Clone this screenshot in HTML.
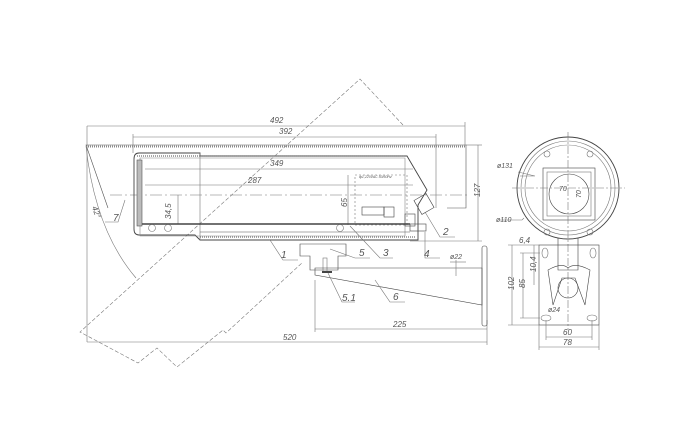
<!DOCTYPE html>
<html><head><meta charset="utf-8"><style>
html,body{margin:0;padding:0;background:#fff}
svg{display:block}
text{font-family:"Liberation Sans",sans-serif;font-style:italic;fill:#555}
</style></head><body>
<svg width="700" height="446" viewBox="0 0 700 446" xmlns="http://www.w3.org/2000/svg">
<g fill="none" stroke="#777" stroke-width="0.6">
<polyline stroke-dasharray="4,2" points="403,125 360,79 80,332 138,363 157,348 177,367 223,330 226,333 303,262"/>
<path d="M86,146 Q95,230 136,278"/>
<line x1="87" y1="126" x2="465" y2="126"/>
<line x1="133" y1="137" x2="436" y2="137"/>
<line x1="145" y1="169" x2="413" y2="169"/>
<line x1="145" y1="185" x2="413" y2="185"/>
<line x1="87" y1="342" x2="487" y2="342"/>
<line x1="315" y1="329" x2="487" y2="329"/>
<line x1="87" y1="126" x2="87" y2="342"/>
<line x1="465" y1="122" x2="465" y2="145"/>
<line x1="133" y1="134" x2="133" y2="153"/>
<line x1="436" y1="134" x2="436" y2="208"/>
<line x1="315" y1="280" x2="315" y2="332"/>
<line x1="487" y1="320" x2="487" y2="345"/>
<line x1="478" y1="145" x2="478" y2="241"/>
<line x1="466" y1="145" x2="482" y2="145"/>
<line x1="410" y1="241" x2="482" y2="241"/>
<line x1="178" y1="195" x2="178" y2="224"/>
<line x1="348" y1="175" x2="348" y2="225"/>
<rect x="355" y="175" width="52" height="50" stroke-dasharray="2,2"/>
<line x1="110" y1="195" x2="470" y2="195" stroke-dasharray="12,3,2,3"/>
<path d="M108,208 L86,145 L466,145 L466,208 L447,208" stroke="#555"/>
<line x1="86" y1="146.5" x2="466" y2="146.5" stroke="#888" stroke-width="2" stroke-dasharray="1,1"/>
<path d="M139,153 L200,153 L200,156 L407,156 L427,190 L418,205 L418,240 L200,240 L195,235 L139,235 Q134,235 134,229 L134,159 Q134,153 139,153 Z" stroke="#444" stroke-width="0.9"/>
<path d="M137,156 L405,156" stroke="#888" stroke-width="1.5" stroke-dasharray="1,1"/>
<path d="M200,237 L415,237" stroke="#888" stroke-width="1.5" stroke-dasharray="1,1"/>
<path d="M140,158 L405,158 L405,236 L140,236 Z" stroke="#888"/>
<rect x="137" y="160" width="5" height="66" fill="#bbb" stroke="#555"/>
<line x1="200" y1="153" x2="200" y2="240"/>
<line x1="142" y1="224" x2="410" y2="224" stroke="#444" stroke-width="1.5"/>
<line x1="200" y1="232" x2="410" y2="232" stroke="#555"/>
<circle cx="152" cy="228" r="3.5"/><circle cx="168" cy="228" r="3.5"/><circle cx="340" cy="228" r="3.5"/>
<rect x="362" y="207" width="22" height="8" stroke="#444"/>
<rect x="384" y="207" width="10" height="10" stroke="#444"/>
<rect x="405" y="214" width="10" height="12" stroke="#444"/>
<rect x="417" y="196" width="14" height="16" stroke="#444" transform="rotate(-30 424 204)"/>
<rect x="410" y="224" width="16" height="7" stroke="#444"/>
<path d="M300,244 L346,244 L346,256 L338,256 L338,270 L310,270 L310,256 L300,256 Z" stroke="#444"/>
<rect x="323" y="258" width="4" height="14"/>
<rect x="482" y="246" width="5" height="80" rx="2" stroke="#444"/>
<path d="M315,268 L482,268 L482,305 L315,275 Z" stroke="#444"/>
<line x1="322" y1="272" x2="332" y2="272" stroke="#444" stroke-width="2"/>
<line x1="450" y1="262" x2="466" y2="262"/><line x1="456" y1="260" x2="456" y2="276"/>
<polyline points="270,240 283,260 298,260"/>
<polyline points="425,212 440,237 455,237"/>
<polyline points="350,226 380,258 393,258"/>
<polyline points="425,232 425,258 440,258"/>
<polyline points="330,249 355,258 370,258"/>
<polyline points="328,273 342,302 355,302"/>
<polyline points="375,280 390,302 405,302"/>
<polyline points="125,200 118,222 105,222"/>
<circle cx="568" cy="188" r="51" stroke="#444" stroke-width="0.9"/>
<circle cx="568" cy="188" r="47"/>
<circle cx="568" cy="188" r="43"/>
<rect x="543" y="168" width="52" height="52" stroke="#444"/>
<rect x="547" y="172" width="44" height="44"/>
<circle cx="569" cy="194" r="20" stroke="#444"/>
<circle cx="547" cy="154" r="3"/><circle cx="590" cy="154" r="3"/><circle cx="547" cy="232" r="3"/><circle cx="590" cy="232" r="3"/>
<line x1="568" y1="132" x2="568" y2="330" stroke-dasharray="8,2,2,2"/>
<line x1="512" y1="188" x2="625" y2="188" stroke-dasharray="8,2,2,2"/>
<rect x="539" y="245" width="60" height="80" stroke="#444"/>
<path d="M558,238 L558,270 L578,270 L578,238" stroke="#444"/>
<path d="M548,270 Q562,262 568,268 Q575,262 590,270 L585,305 L575,278 L562,278 L553,305 Z" stroke="#444"/>
<circle cx="568" cy="288" r="10" stroke="#444"/>
<ellipse cx="545" cy="253" rx="3" ry="5"/><ellipse cx="593" cy="253" rx="3" ry="5"/>
<ellipse cx="546" cy="318" rx="5" ry="3"/><ellipse cx="592" cy="318" rx="5" ry="3"/>
<line x1="512" y1="245" x2="512" y2="325"/><line x1="508" y1="245" x2="539" y2="245"/><line x1="508" y1="325" x2="539" y2="325"/>
<line x1="523" y1="253" x2="523" y2="318"/><line x1="520" y1="253" x2="540" y2="253"/><line x1="520" y1="318" x2="540" y2="318"/>
<line x1="534" y1="245" x2="534" y2="285"/>
<line x1="546" y1="337" x2="592" y2="337"/><line x1="539" y1="347" x2="599" y2="347"/>
<line x1="539" y1="325" x2="539" y2="350"/><line x1="599" y1="325" x2="599" y2="350"/>
<line x1="546" y1="320" x2="546" y2="340"/><line x1="592" y1="320" x2="592" y2="340"/>
<polyline points="518,172 535,176 520,176"/>
<polyline points="524,218 522,220 500,220"/>
</g>
<g font-size="8">
<text x="270" y="123">492</text>
<text x="279" y="134">392</text>
<text x="270" y="166">349</text>
<text x="248" y="183">287</text>
<text x="158" y="216" transform="rotate(-90 166 211)">34,5</text>
<text x="339" y="205" transform="rotate(-90 344 202)">65</text>
<text x="473" y="198" transform="rotate(-90 476 194)">127</text>
<text x="393" y="327">225</text>
<text x="283" y="340">520</text>
<text x="92" y="213" transform="rotate(70 96 210)">42°</text>
<text x="450" y="259" font-size="7">ø22</text>
<text x="497" y="168" font-size="7">ø131</text>
<text x="496" y="222" font-size="7">ø110</text>
<text x="559" y="191" font-size="7">70</text>
<text x="575" y="198" font-size="7" transform="rotate(-90 578 195)">70</text>
<text x="519" y="243">6,4</text>
<text x="506" y="290" transform="rotate(-90 510 286)">102</text>
<text x="519" y="288" transform="rotate(-90 522 285)">85</text>
<text x="530" y="272" transform="rotate(-90 533 269)">10,4</text>
<text x="548" y="312" font-size="7">ø24</text>
<text x="563" y="335">60</text>
<text x="563" y="345">78</text>
<text x="359" y="178" font-size="3.5">ф1,220VAC 50/60Hz</text>
</g>
<g font-size="10" fill="#333">
<text x="281" y="258">1</text>
<text x="443" y="235">2</text>
<text x="383" y="256">3</text>
<text x="424" y="257">4</text>
<text x="359" y="256">5</text>
<text x="342" y="301">5.1</text>
<text x="393" y="300">6</text>
<text x="113" y="221">7</text>
</g>
</svg>
</body></html>
